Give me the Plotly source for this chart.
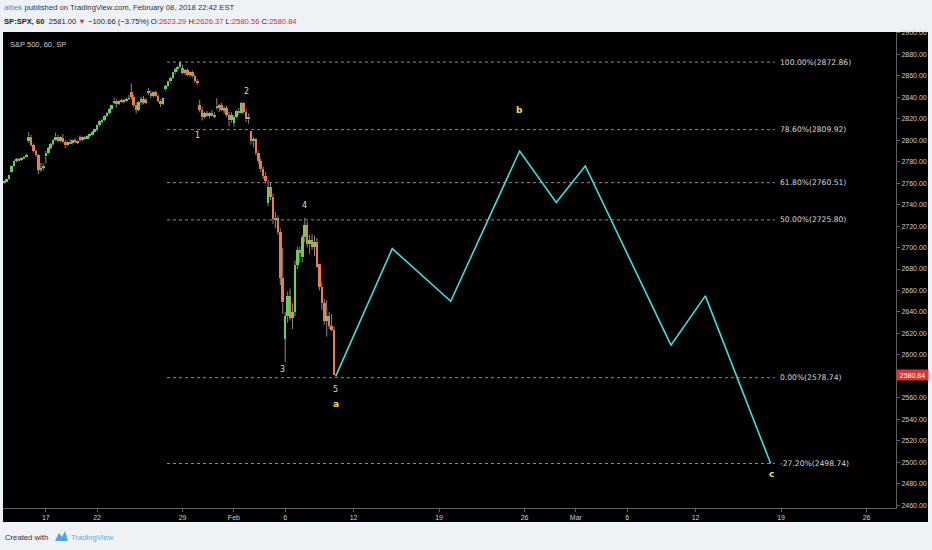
import plotly.graph_objects as go
import pandas as pd

# ---------------- data ----------------
# hourly SPX bars (7 per session), first bar shown is the 5th bar of Jan 11 2018
first_slot = 4
bars_per_day = 7

opens = [
    2760.5, 2762.0, 2763.8,                                   # Jan 11
    2770.2, 2776.0, 2780.8, 2782.5, 2781.4, 2783.4, 2784.0,   # Jan 12
    2799.0, 2803.5, 2795.5, 2790.2, 2786.0, 2772.5, 2774.0,   # Jan 16
    2785.0, 2788.5, 2792.8, 2796.5, 2800.2, 2803.5, 2799.2,   # Jan 17
    2802.4, 2798.0, 2795.5, 2798.8, 2797.2, 2799.8, 2798.5,   # Jan 18
    2802.6, 2800.5, 2802.8, 2801.5, 2803.9, 2805.8, 2807.6,   # Jan 19
    2809.2, 2813.8, 2817.6, 2819.2, 2822.8, 2825.5, 2829.4,   # Jan 22
    2835.1, 2837.0, 2834.2, 2836.8, 2835.8, 2837.4, 2838.5,   # Jan 23
    2845.4, 2840.5, 2833.2, 2828.5, 2835.6, 2838.5, 2835.0,   # Jan 24
    2846.2, 2844.5, 2841.2, 2844.8, 2841.5, 2837.0, 2834.0,   # Jan 25
    2847.5, 2850.5, 2854.8, 2857.9, 2863.2, 2866.0, 2868.5,   # Jan 26
    2867.2, 2863.0, 2865.2, 2861.0, 2863.8, 2860.2, 2855.0,   # Jan 29
    2832.7, 2828.5, 2821.5, 2825.2, 2822.5, 2825.0, 2823.5,   # Jan 30
    2832.4, 2830.5, 2832.8, 2828.2, 2830.0, 2823.5, 2818.5,   # Jan 31
    2816.5, 2821.8, 2827.5, 2825.0, 2834.5, 2826.0, 2819.5,   # Feb 1
    2808.9, 2799.0, 2801.0, 2788.5, 2780.5, 2773.0, 2767.0,   # Feb 2
    2741.1, 2756.0, 2747.5, 2726.5, 2728.0, 2714.5, 2672.0,   # Feb 5
    2614.8, 2636.0, 2655.0, 2634.5, 2640.0, 2684.0, 2697.5,   # Feb 6
    2691.0, 2709.5, 2721.0, 2703.5, 2707.0, 2700.5, 2705.5,   # Feb 7
    2685.0, 2663.5, 2648.0, 2632.0, 2636.0, 2627.0, 2623.3,   # Feb 8
]
highs = [
    2762.5, 2764.5, 2767.6,
    2776.5, 2781.5, 2783.5, 2783.6, 2784.0, 2785.2, 2787.8,
    2807.5, 2805.0, 2797.0, 2792.0, 2787.0, 2779.0, 2778.5,
    2790.0, 2794.0, 2797.5, 2801.0, 2807.0, 2805.0, 2803.5,
    2805.8, 2800.5, 2799.5, 2801.0, 2800.5, 2802.0, 2800.0,
    2804.5, 2803.5, 2804.0, 2804.5, 2806.5, 2808.5, 2810.3,
    2814.5, 2818.5, 2820.5, 2823.5, 2826.5, 2830.0, 2833.0,
    2839.5, 2838.5, 2837.5, 2838.5, 2838.0, 2840.0, 2842.2,
    2853.0, 2842.5, 2835.0, 2836.5, 2840.5, 2841.5, 2839.5,
    2848.6, 2846.5, 2845.5, 2846.0, 2843.0, 2838.5, 2840.0,
    2851.5, 2855.5, 2859.0, 2864.0, 2867.5, 2869.5, 2872.9,
    2870.6, 2866.5, 2867.0, 2864.5, 2865.0, 2861.5, 2857.0,
    2837.8, 2831.0, 2826.5, 2827.5, 2826.0, 2828.5, 2826.0,
    2839.3, 2834.0, 2835.0, 2831.5, 2832.0, 2826.5, 2826.0,
    2823.5, 2828.5, 2830.0, 2836.0, 2835.5, 2829.0, 2825.0,
    2808.9, 2803.0, 2802.0, 2790.0, 2783.0, 2775.5, 2770.5,
    2763.4, 2760.0, 2750.0, 2733.0, 2730.0, 2718.0, 2700.0,
    2640.0, 2659.0, 2662.0, 2648.0, 2688.0, 2701.0, 2701.0,
    2712.0, 2727.7, 2724.5, 2712.0, 2712.5, 2711.0, 2709.0,
    2685.3, 2668.0, 2652.0, 2651.0, 2640.0, 2638.0, 2626.4,
]
lows = [
    2759.5, 2761.5, 2763.0,
    2769.6, 2775.5, 2779.5, 2780.5, 2780.6, 2782.6, 2783.5,
    2797.5, 2794.0, 2788.5, 2784.5, 2768.6, 2770.5, 2772.0,
    2778.4, 2787.0, 2791.5, 2795.0, 2799.5, 2798.0, 2798.0,
    2797.0, 2792.6, 2794.5, 2796.5, 2796.0, 2797.5, 2796.5,
    2798.1, 2799.0, 2800.5, 2800.8, 2802.5, 2804.5, 2806.5,
    2808.1, 2812.5, 2815.5, 2818.0, 2821.5, 2824.5, 2828.5,
    2833.5, 2830.6, 2833.0, 2835.0, 2834.5, 2836.0, 2837.5,
    2838.0, 2831.0, 2824.8, 2827.0, 2833.0, 2833.5, 2834.0,
    2842.0, 2839.0, 2840.0, 2840.5, 2835.5, 2830.9, 2833.0,
    2846.2, 2849.5, 2853.5, 2857.0, 2861.5, 2864.0, 2867.5,
    2861.5, 2860.5, 2860.0, 2859.0, 2858.5, 2853.5, 2851.5,
    2826.0, 2818.3, 2820.0, 2821.5, 2820.5, 2822.5, 2820.5,
    2828.5, 2826.5, 2827.0, 2825.0, 2822.0, 2813.0, 2816.5,
    2812.7, 2820.5, 2823.5, 2824.0, 2824.5, 2817.0, 2815.5,
    2796.0, 2793.5, 2786.0, 2778.0, 2770.5, 2764.0, 2760.0,
    2738.5, 2744.0, 2722.0, 2718.0, 2712.0, 2665.0, 2638.2,
    2593.1, 2630.0, 2632.0, 2624.0, 2636.0, 2680.0, 2686.0,
    2686.0, 2705.0, 2700.0, 2694.0, 2698.0, 2692.0, 2681.3,
    2660.0, 2642.0, 2628.0, 2617.0, 2624.0, 2622.0, 2580.6,
]
closes = [
    2762.0, 2763.8, 2767.5,
    2776.0, 2780.8, 2782.5, 2781.4, 2783.4, 2784.0, 2786.2,
    2803.5, 2795.5, 2790.2, 2786.0, 2772.5, 2774.0, 2776.4,
    2788.5, 2792.8, 2796.5, 2800.2, 2803.5, 2799.2, 2802.6,
    2798.0, 2795.5, 2798.8, 2797.2, 2799.8, 2798.5, 2798.0,
    2800.5, 2802.8, 2801.5, 2803.9, 2805.8, 2807.6, 2810.3,
    2813.8, 2817.6, 2819.2, 2822.8, 2825.5, 2829.4, 2833.0,
    2837.0, 2834.2, 2836.8, 2835.8, 2837.4, 2838.5, 2839.1,
    2840.5, 2833.2, 2828.5, 2835.6, 2838.5, 2835.0, 2837.5,
    2844.5, 2841.2, 2844.8, 2841.5, 2837.0, 2834.0, 2839.3,
    2850.5, 2854.8, 2857.9, 2863.2, 2866.0, 2868.5, 2872.8,
    2863.0, 2865.2, 2861.0, 2863.8, 2860.2, 2855.0, 2853.5,
    2828.5, 2821.5, 2825.2, 2822.5, 2825.0, 2823.5, 2822.4,
    2830.5, 2832.8, 2828.2, 2830.0, 2823.5, 2818.5, 2823.8,
    2821.8, 2827.5, 2825.0, 2834.5, 2826.0, 2819.5, 2822.0,
    2799.0, 2801.0, 2788.5, 2780.5, 2773.0, 2767.0, 2762.1,
    2756.0, 2747.5, 2726.5, 2728.0, 2714.5, 2672.0, 2648.9,
    2636.0, 2655.0, 2634.5, 2640.0, 2684.0, 2697.5, 2695.1,
    2709.5, 2721.0, 2703.5, 2707.0, 2700.5, 2705.5, 2681.7,
    2663.5, 2648.0, 2632.0, 2636.0, 2627.0, 2623.3, 2580.8,
]

tick_dates = ["2018-01-17", "2018-01-22", "2018-01-29", "2018-02-01", "2018-02-06",
              "2018-02-12", "2018-02-19", "2018-02-26", "2018-03-01", "2018-03-06",
              "2018-03-12", "2018-03-19", "2018-03-26"]
tick_labels = ["17", "22", "29", "Feb", "6", "12", "19", "26", "Mar", "6", "12", "19", "26"]

# price-axis ticks (2580 is hidden behind the last-price tag)
price_ticks = [2460, 2480, 2500, 2520, 2540, 2560, 2600, 2620, 2640, 2660, 2680, 2700,
               2720, 2740, 2760, 2780, 2800, 2820, 2840, 2860, 2880, 2900]

fib_prices = [2872.86, 2809.92, 2760.51, 2725.80, 2578.74, 2498.74]
fib_labels = ["100.00%(2872.86)", "78.60%(2809.92)", "61.80%(2760.51)",
              "50.00%(2725.80)", "0.00%(2578.74)", "-27.20%(2498.74)"]
fib_start, fib_end = 10.09, 45.64          # in session positions

# projected wave path (session positions, price)
wave_pos = [19.95, 23.26, 26.68, 30.71, 32.85, 34.55, 39.56, 41.57, 45.39]
wave_price = [2580.0, 2699.0, 2650.0, 2790.0, 2742.0, 2776.0, 2609.0, 2655.0, 2498.74]

wave_text = ["1", "2", "3", "4", "5", "a", "b", "c"]
wave_text_pos = [11.88, 14.72, 16.85, 18.12, 19.97, 19.97, 30.69, 45.41]
wave_text_price = [2804.3, 2845.7, 2586.8, 2739.0, 2567.8, 2553.9, 2828.2, 2488.6]

last_price = 2580.84

# ---------------- calendar / positions ----------------
cal = pd.bdate_range("2018-01-11", "2018-03-30")
cal = cal[cal != pd.Timestamp("2018-01-15")]        # MLK holiday, no session
cal_pos = {d.strftime("%Y-%m-%d"): i for i, d in enumerate(cal)}
tick_vals = [cal_pos[d] for d in tick_dates]

bar_x = []
for i in range(len(closes)):
    slot = i + first_slot
    bar_x.append(slot // bars_per_day + (slot % bars_per_day) / bars_per_day)

UP, DOWN, WICK = "#66d15a", "#ee7b58", "#8a8a8a"
body_base = [min(o, c) for o, c in zip(opens, closes)]
body_h = [max(abs(c - o), 0.8) for o, c in zip(opens, closes)]
body_col = [UP if c >= o else DOWN for o, c in zip(opens, closes)]

# wicks drawn only outside the bodies (bars are rendered beneath scatter lines)
wx, wy = [], []
for x, o, h, l, c in zip(bar_x, opens, highs, lows, closes):
    top, bot = max(o, c), min(o, c)
    wx += [x, x, None, x, x, None]
    wy += [top, h, None, l, bot, None]

# ---------------- figure ----------------
W, H = 932, 550
L, R, T, B = 3, 896, 32, 508   # plot area in pixels


def px(x):
    return (x - L) / (R - L)


def py(y):
    return (B - y) / (B - T)


SANS = "Liberation Sans, Arial"
VERD = "DejaVu Sans, Verdana"

fig = go.Figure()

# fib levels
for p in fib_prices:
    fig.add_trace(go.Scatter(x=[fib_start, fib_end], y=[p, p], mode="lines",
                             line=dict(color="#8c8c8c", width=1, dash="dot"),
                             hoverinfo="skip", showlegend=False))

fig.add_trace(go.Scatter(x=wx, y=wy, mode="lines", line=dict(color=WICK, width=1),
                         hoverinfo="skip", showlegend=False))
fig.add_trace(go.Bar(x=bar_x, y=body_h, base=body_base, width=0.15,
                     marker=dict(color=body_col, line=dict(width=0)),
                     showlegend=False, hoverinfo="skip"))

fig.add_trace(go.Scatter(x=wave_pos, y=wave_price, mode="lines",
                         line=dict(color="#3fdde0", width=1.6),
                         hoverinfo="skip", showlegend=False))

# fib labels
for p, t in zip(fib_prices, fib_labels):
    fig.add_annotation(x=fib_end + 0.15, y=p, text=t, showarrow=False, xanchor="left",
                       yanchor="middle", font=dict(family=VERD, size=7.6, color="#d9d9d9"))

# wave labels
for t, x, y in zip(wave_text, wave_text_pos, wave_text_price):
    if t.isdigit():
        f = dict(family=VERD, size=8, color="#dcdcdc")
        txt = t
    else:
        f = dict(family=VERD, size=9, color="#f0e13c")
        txt = "<b>" + t + "</b>"
    fig.add_annotation(x=x, y=y, text=txt, showarrow=False, font=f,
                       xanchor="center", yanchor="middle")

# last price tag
fig.add_annotation(xref="paper", x=1.0, y=last_price, text=f"{last_price:.2f}",
                   showarrow=False, xanchor="left", yanchor="middle",
                   bgcolor="#d9343b", width=31, height=10, borderpad=0,
                   font=dict(family=SANS, size=7, color="#ffffff"))

# chart title inside
fig.add_annotation(xref="paper", yref="paper", x=px(8), y=py(44), text="S&P 500, 60, SP",
                   showarrow=False, xanchor="left", yanchor="middle",
                   font=dict(family=SANS, size=7.5, color="#d0d0d0"))

# header
fig.add_annotation(xref="paper", yref="paper", x=px(2), y=py(8),
                   text="<span style='color:#3d95d6'>aibek</span> published on TradingView.com, February 08, 2018 22:42 EST",
                   showarrow=False, xanchor="left", yanchor="middle",
                   font=dict(family=SANS, size=7.7, color="#333333"))
red = "#c8303a"
hdr2 = ("<b>SP:SPX, 60</b>  2581.00 <span style='color:%s'>▼</span> −100.66 (−3.75%%) "
        "O:<span style='color:%s'>2623.29</span> H:<span style='color:%s'>2626.37</span> "
        "L:<span style='color:%s'>2580.56</span> C:<span style='color:%s'>2580.84</span>") % (red, red, red, red, red)
fig.add_annotation(xref="paper", yref="paper", x=px(2), y=py(21.5), text=hdr2,
                   showarrow=False, xanchor="left", yanchor="middle",
                   font=dict(family=SANS, size=7.6, color="#222222"))

# footer
fig.add_annotation(xref="paper", yref="paper", x=px(3), y=py(537), text="Created with",
                   showarrow=False, xanchor="left", yanchor="middle",
                   font=dict(family=SANS, size=7.7, color="#333333"))
fig.add_annotation(xref="paper", yref="paper", x=px(69), y=py(537), text="TradingView",
                   showarrow=False, xanchor="left", yanchor="middle",
                   font=dict(family=SANS, size=7.7, color="#5aaee2"))

shapes = []
# black chart panel (including axis strips)
shapes.append(dict(type="rect", xref="paper", yref="paper", layer="below",
                   x0=px(3), x1=px(928), y0=py(522), y1=py(32),
                   fillcolor="#000000", line=dict(width=0)))
# TradingView logo (simple mark)
lx = [55, 59, 62, 65, 68, 55]
ly = [541, 533, 537, 531, 541, 541]
path = "M " + " L ".join(f"{px(a):.5f},{py(b):.5f}" for a, b in zip(lx, ly)) + " Z"
shapes.append(dict(type="path", xref="paper", yref="paper", path=path,
                   fillcolor="#4fa6dc", line=dict(width=0)))
fig.update_layout(shapes=shapes)

fig.update_layout(
    width=W, height=H,
    margin=dict(l=L, r=W - R, t=T, b=H - B, pad=0),
    paper_bgcolor="#eef1f6", plot_bgcolor="#000000",
    showlegend=False, bargap=0, hovermode=False,
    xaxis=dict(range=[0.497, 52.72], tickvals=tick_vals, ticktext=tick_labels,
               showgrid=False, zeroline=False, showline=True, linecolor="#606060",
               linewidth=1, ticks="outside", ticklen=3, tickcolor="#606060",
               tickfont=dict(family=SANS, size=7, color="#cfcfcf")),
    yaxis=dict(range=[2457.3, 2900.9], side="right", tickvals=price_ticks,
               tickformat=".2f", showgrid=False, zeroline=False, showline=True,
               linecolor="#606060", linewidth=1, ticks="outside", ticklen=3,
               tickcolor="#606060",
               tickfont=dict(family=SANS, size=7, color="#cfcfcf")),
)

fig.write_html("out.html", config={"displayModeBar": False},
               post_script="document.body.style.margin='0px';document.body.style.background='#eef1f6';")
